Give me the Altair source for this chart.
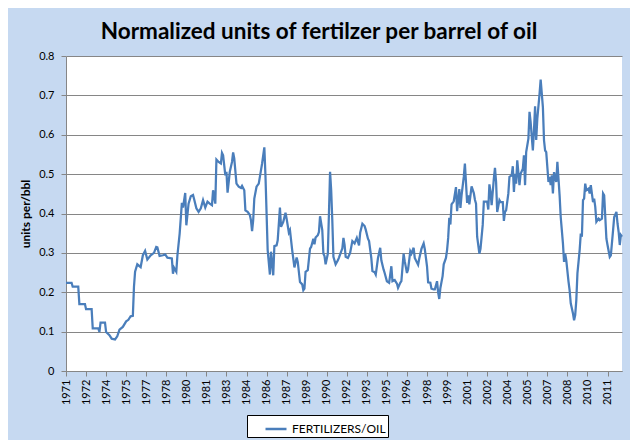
import altair as alt
import pandas as pd

# months since Jan 1971
months = [0, 5, 6, 11, 12, 17, 18, 23, 24, 29, 30, 31, 35, 36, 39, 41, 44, 46, 48, 51,
          54, 56, 58, 60, 61, 62, 64, 67, 69, 71, 73, 76, 79, 81, 82, 84, 87, 89, 91, 95,
          96, 97, 99, 100, 102, 104, 105, 107, 108, 110, 112, 114, 115, 117, 119, 121, 123, 125, 127, 129,
          131, 132, 134, 135, 137, 139, 140, 141, 143, 144, 145, 147, 149, 150, 151, 153, 155, 157, 158, 160,
          161, 163, 165, 166, 167, 168, 169, 171, 173, 175, 176, 178, 179, 181, 183, 184, 186, 187, 189, 190,
          192, 193, 195, 197, 198, 200, 201, 203, 205, 207, 208, 210, 212, 213, 214, 215, 217, 219, 220, 222,
          223, 224, 226, 227, 228, 230, 231, 232, 233, 235, 237, 238, 239, 240, 242, 244, 245, 247, 248, 249,
          250, 251, 253, 255, 257, 259, 261, 263, 264, 266, 268, 269, 271, 272, 274, 275, 277, 278, 280, 282,
          283, 285, 286, 288, 290, 292, 293, 295, 297, 298, 300, 301, 303, 304, 306, 307, 309, 310, 312, 313,
          316, 317, 319, 321, 322, 324, 325, 327, 328, 330, 331, 333, 334, 335, 336, 338, 339, 341, 342, 343,
          344, 345, 346, 348, 350, 351, 353, 354, 355, 357, 358, 359, 360, 361, 362, 364, 366, 367, 368, 369,
          371, 372, 374, 375, 377, 378, 379, 380, 381, 382, 384, 385, 386, 387, 389, 390, 392, 393, 394, 395,
          397, 398, 400, 401, 402, 403, 404, 405, 407, 408, 410, 411, 412, 413, 415, 416, 417, 419, 420, 421,
          422, 423, 425, 426, 428, 429, 430, 431, 433, 434, 435, 436, 437, 438, 440, 441, 443, 444, 446, 447,
          448, 449, 451, 452, 453, 455, 456, 457, 458, 459, 461, 462, 463, 464, 465, 466, 467, 469, 470, 471,
          473, 474, 475, 476, 478, 479, 481, 482, 483, 484, 485, 486, 488, 489, 491, 492, 494, 495, 496, 497,
          498, 499]

units = [0.224, 0.224, 0.214, 0.214, 0.170, 0.170, 0.157, 0.157, 0.108, 0.108, 0.099, 0.123, 0.123, 0.099, 0.091, 0.082, 0.080, 0.088, 0.105, 0.112,
         0.126, 0.130, 0.139, 0.140, 0.214, 0.252, 0.271, 0.264, 0.294, 0.305, 0.283, 0.294, 0.300, 0.315, 0.314, 0.292, 0.294, 0.296, 0.288, 0.286,
         0.247, 0.262, 0.252, 0.294, 0.349, 0.427, 0.415, 0.452, 0.370, 0.425, 0.444, 0.447, 0.436, 0.413, 0.404, 0.413, 0.434, 0.415, 0.430, 0.425,
         0.421, 0.459, 0.425, 0.537, 0.531, 0.527, 0.554, 0.548, 0.497, 0.506, 0.453, 0.506, 0.531, 0.555, 0.540, 0.476, 0.468, 0.465, 0.470, 0.459,
         0.408, 0.404, 0.396, 0.383, 0.355, 0.383, 0.438, 0.468, 0.476, 0.510, 0.527, 0.568, 0.497, 0.307, 0.245, 0.303, 0.243, 0.317, 0.319, 0.332,
         0.415, 0.366, 0.379, 0.402, 0.387, 0.352, 0.358, 0.307, 0.263, 0.288, 0.277, 0.226, 0.220, 0.205, 0.209, 0.252, 0.256, 0.311, 0.315, 0.336,
         0.322, 0.339, 0.345, 0.353, 0.393, 0.358, 0.298, 0.292, 0.271, 0.298, 0.506, 0.459, 0.383, 0.290, 0.271, 0.281, 0.288, 0.304, 0.311, 0.338,
         0.321, 0.290, 0.287, 0.300, 0.330, 0.324, 0.338, 0.319, 0.351, 0.374, 0.368, 0.359, 0.336, 0.330, 0.287, 0.254, 0.251, 0.245, 0.287, 0.313,
         0.281, 0.258, 0.249, 0.228, 0.224, 0.266, 0.228, 0.231, 0.222, 0.211, 0.224, 0.228, 0.298, 0.279, 0.249, 0.258, 0.304, 0.298, 0.313, 0.287,
         0.270, 0.285, 0.310, 0.324, 0.310, 0.266, 0.225, 0.224, 0.209, 0.207, 0.207, 0.228, 0.199, 0.183, 0.211, 0.241, 0.271, 0.287, 0.307, 0.338,
         0.389, 0.372, 0.423, 0.431, 0.467, 0.406, 0.462, 0.414, 0.446, 0.493, 0.527, 0.477, 0.427, 0.446, 0.423, 0.469, 0.452, 0.435, 0.425, 0.341,
         0.298, 0.310, 0.371, 0.430, 0.430, 0.430, 0.410, 0.474, 0.455, 0.421, 0.489, 0.516, 0.480, 0.404, 0.434, 0.429, 0.429, 0.381, 0.404, 0.408,
         0.451, 0.493, 0.497, 0.520, 0.455, 0.501, 0.476, 0.535, 0.472, 0.501, 0.514, 0.548, 0.472, 0.556, 0.590, 0.658, 0.632, 0.560, 0.611, 0.672,
         0.587, 0.641, 0.704, 0.740, 0.670, 0.586, 0.560, 0.556, 0.480, 0.493, 0.472, 0.497, 0.451, 0.505, 0.480, 0.531, 0.446, 0.391, 0.324, 0.277,
         0.298, 0.281, 0.227, 0.205, 0.172, 0.146, 0.129, 0.142, 0.180, 0.248, 0.307, 0.349, 0.341, 0.434, 0.438, 0.476, 0.459, 0.463, 0.451, 0.472,
         0.429, 0.438, 0.417, 0.379, 0.387, 0.383, 0.387, 0.451, 0.446, 0.391, 0.336, 0.320, 0.290, 0.294, 0.358, 0.391, 0.404, 0.374, 0.353, 0.320,
         0.345, 0.341]

series_name = "FERTILIZERS/OIL"
chart_title = "Normalized units of fertilzer per barrel of oil"
y_title = "units per/bbl"
start_year = 1971
tick_months = list(range(0, 487, 18))
y_ticks = [0, 0.1, 0.2, 0.3, 0.4, 0.5, 0.6, 0.7, 0.8]

df = pd.DataFrame({"month": months, "units": units, "series": series_name})

FONT = "Lato"
GRAY = "#868686"

line = alt.Chart(df).mark_line(strokeWidth=2.25).encode(
    x=alt.X("month:Q",
            scale=alt.Scale(domain=[0, 499], nice=False, zero=False),
            axis=alt.Axis(values=tick_months,
                          labelExpr=f"'' + floor({start_year} + datum.value / 12)",
                          labelAngle=-90, grid=False, title=None,
                          domainColor=GRAY, tickColor=GRAY, tickSize=5,
                          labelPadding=3, labelFont=FONT, labelFontSize=11,
                          labelColor="black", labelOverlap=False, labelBound=False,
                          labelFlush=False)),
    y=alt.Y("units:Q",
            scale=alt.Scale(domain=[0, 0.8], nice=False),
            axis=alt.Axis(values=y_ticks, format="~g", title=y_title,
                          grid=True, gridColor=GRAY, gridWidth=1,
                          domainColor=GRAY, tickColor=GRAY, tickSize=5,
                          labelPadding=7, labelFont=FONT, labelFontSize=11,
                          labelColor="black", titleFont=FONT, titleFontSize=12,
                          titleFontWeight="bold", titleColor="black",
                          titlePadding=6, labelOverlap=False, labelFlush=False)),
    color=alt.Color("series:N",
                    scale=alt.Scale(range=["#4A7EBB"]),
                    legend=alt.Legend(title=None, orient="none", legendX=181, legendY=359,
                                      strokeColor="black", fillColor="white", padding=2,
                                      symbolType="stroke", symbolSize=441, symbolStrokeWidth=2.5,
                                      symbolOffset=15,
                                      labelFont=FONT, labelFontSize=12, labelColor="black"))
)

chart = line.properties(
    width=556, height=315,
    title=alt.TitleParams(chart_title, font=FONT, fontSize=22.5, fontWeight="bold",
                          color="black", anchor="middle", dx=-25, offset=7),
    background="#C6D9F1",
    padding={"left": 58, "top": 48, "right": 8, "bottom": 69},
    autosize=alt.AutoSizeParams(type="none"),
).configure_view(fill="white", strokeWidth=0)

chart.save("out.html", embed_options={"renderer": "svg", "actions": False})
